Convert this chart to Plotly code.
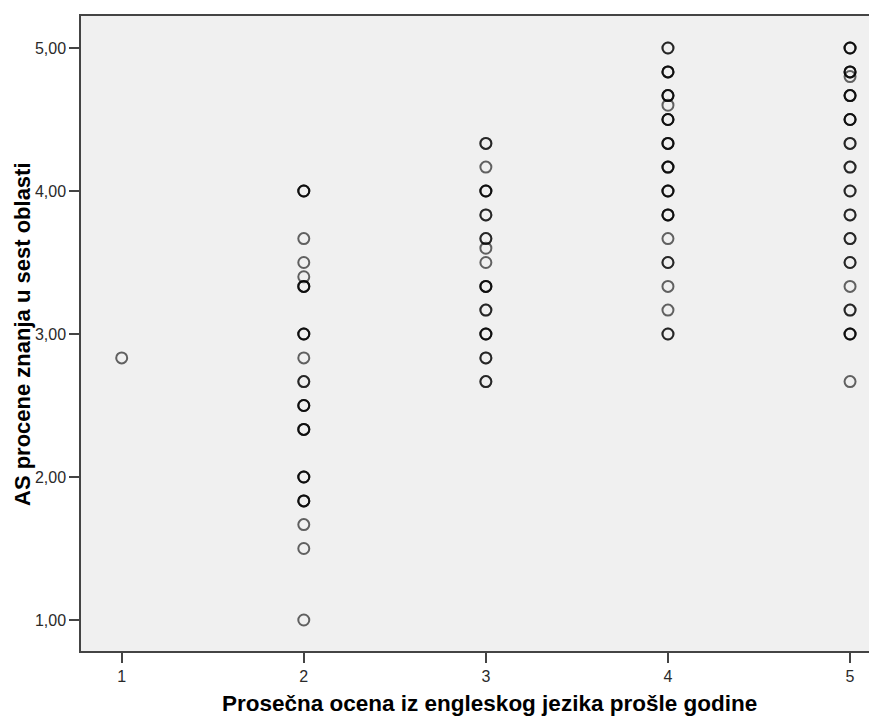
import plotly.graph_objects as go

# Data: average self-assessed knowledge score (y) per last-year English grade (x)
# each listed score with the number of overlapping respondents (frequency)
grades = [1, 2, 3, 4, 5]

grade1_scores = [2.833]
grade1_counts = [1]

grade2_scores = [4.0, 3.667, 3.5, 3.4, 3.333, 3.0, 2.833, 2.667, 2.5, 2.333, 2.0, 1.833, 1.667, 1.5, 1.0]
grade2_counts = [3, 1, 1, 1, 3, 3, 1, 2, 3, 3, 3, 3, 1, 1, 1]

grade3_scores = [4.333, 4.167, 4.0, 3.833, 3.667, 3.6, 3.5, 3.333, 3.167, 3.0, 2.833, 2.667]
grade3_counts = [2, 1, 3, 2, 2, 1, 1, 3, 2, 3, 2, 2]

grade4_scores = [5.0, 4.833, 4.667, 4.6, 4.5, 4.333, 4.167, 4.0, 3.833, 3.667, 3.5, 3.333, 3.167, 3.0]
grade4_counts = [2, 3, 3, 1, 3, 3, 3, 3, 3, 1, 2, 1, 1, 2]

grade5_scores = [5.0, 4.833, 4.8, 4.667, 4.5, 4.333, 4.167, 4.0, 3.833, 3.667, 3.5, 3.333, 3.167, 3.0, 2.667]
grade5_counts = [3, 3, 1, 3, 3, 2, 2, 2, 2, 2, 2, 1, 2, 3, 1]

x_title = "Prosečna ocena iz engleskog jezika prošle godine"
y_title = "AS procene znanja u sest oblasti"

groups = [
    (grades[0], grade1_scores, grade1_counts),
    (grades[1], grade2_scores, grade2_counts),
    (grades[2], grade3_scores, grade3_counts),
    (grades[3], grade4_scores, grade4_counts),
    (grades[4], grade5_scores, grade5_counts),
]

xs, ys = [], []
for g, scores, counts in groups:
    for s, c in zip(scores, counts):
        for _ in range(c):
            xs.append(g)
            ys.append(s)

fig = go.Figure()
fig.add_trace(go.Scatter(
    x=xs, y=ys, mode="markers",
    marker=dict(symbol="circle-open", size=11, color="rgba(0,0,0,0.6)",
                line=dict(width=2, color="rgba(0,0,0,0.6)")),
    showlegend=False, hoverinfo="x+y",
))

# page body has an 8px margin, so the figure is offset by 8px
OFF = 8
W, H = 877 - OFF, 718 - OFF
L, T, B, R = 81 - OFF, 16 - OFF, 67, 0

fig.update_layout(
    width=W, height=H,
    margin=dict(l=L, r=R, t=T, b=B),
    paper_bgcolor="white",
    plot_bgcolor="#F0F0F0",
    separators=",.",
    font=dict(family="Liberation Sans, Arial, sans-serif", size=16, color="#2a2a2a"),
    xaxis=dict(
        range=[0.7765, 5.148], tickmode="array", tickvals=grades,
        showgrid=False, zeroline=False,
        showline=True, linecolor="#444444", linewidth=1.5, mirror=True,
        ticks="outside", ticklen=10, tickwidth=1.5, tickcolor="#444444",
        tickfont=dict(size=16, color="#2a2a2a"),
    ),
    yaxis=dict(
        range=[0.7832, 5.2238], tick0=1, dtick=1, tickformat=".2f",
        showgrid=False, zeroline=False,
        showline=True, linecolor="#444444", linewidth=1.5, mirror=False,
        ticks="outside", ticklen=10, tickwidth=1.5, tickcolor="#444444",
        tickfont=dict(size=16, color="#2a2a2a"),
    ),
    annotations=[
        dict(text="<b>" + x_title + "</b>", xref="paper", yref="paper",
             x=(489 - 81) / (W - L - R), y=-(703 - 651) / (H - T - B),
             xanchor="center", yanchor="middle", showarrow=False,
             font=dict(size=22.5, color="black", family="Liberation Sans, Arial, sans-serif")),
        dict(text="<b>" + y_title + "</b>", xref="paper", yref="paper",
             x=(22 - 81) / (W - L - R), y=(651 - 334) / (H - T - B),
             xanchor="center", yanchor="middle", textangle=-90, showarrow=False,
             font=dict(size=22, color="black", family="Liberation Sans, Arial, sans-serif")),
    ],
)

fig.write_html("out.html")
